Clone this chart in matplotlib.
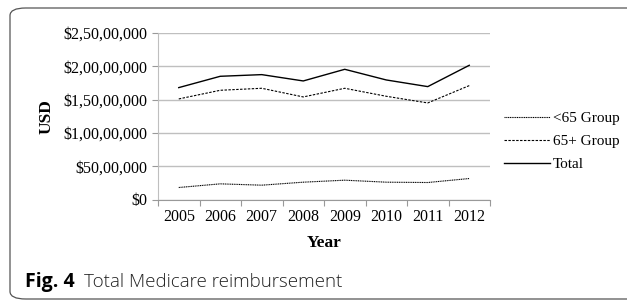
import numpy as np
import matplotlib.pyplot as plt
from matplotlib.patches import FancyBboxPatch
from matplotlib.ticker import FuncFormatter

years = ["2005", "2006", "2007", "2008", "2009", "2010", "2011", "2012"]
under65 = [1800000, 2350000, 2150000, 2600000, 2900000, 2600000, 2550000, 3150000]
over65 = [15100000, 16400000, 16700000, 15400000, 16700000, 15500000, 14500000, 17100000]
total = [16800000, 18500000, 18750000, 17800000, 19550000, 17950000, 16950000, 20150000]
series_names = ["<65 Group", "65+ Group", "Total"]

serif = "Liberation Serif"


def indian_dollar(v, pos):
    v = int(round(v))
    if v == 0:
        return "$0"
    s = str(v)
    last3 = s[-3:]
    rest = s[:-3]
    groups = []
    while len(rest) > 2:
        groups.insert(0, rest[-2:])
        rest = rest[:-2]
    if rest:
        groups.insert(0, rest)
    return "$" + ",".join(groups + [last3])


fig = plt.figure(figsize=(6.27, 3.04), dpi=100)

# rounded frame around the figure
frame = FancyBboxPatch((10 / 627, 5 / 304), 640 / 627, 291 / 304,
                       boxstyle="round,pad=0,rounding_size=0.025",
                       transform=fig.transFigure, fill=False,
                       edgecolor="#555555", linewidth=0.9)
fig.patches.append(frame)

ax = fig.add_axes([158 / 627, (304 - 199.5) / 304, 332 / 627, 166.5 / 304])
x = np.arange(len(years))
ax.plot(x, under65, color="black", linestyle=(0, (1, 0.6)), linewidth=0.8, label=series_names[0])
ax.plot(x, over65, color="black", linestyle=(0, (2.2, 1.3)), linewidth=0.8, label=series_names[1])
ax.plot(x, total, color="black", linestyle="-", linewidth=1.0, label=series_names[2])

ax.set_xlim(-0.5, len(years) - 0.5)
ax.set_ylim(0, 25000000)
ax.set_yticks(np.arange(0, 25000001, 5000000))
ax.yaxis.set_major_formatter(FuncFormatter(indian_dollar))
ax.grid(axis="y", color="#bfbfbf", linewidth=1.0)
ax.set_axisbelow(True)

ax.set_xticks(x)
ax.set_xticklabels(years, fontfamily=serif, fontsize=11.5)
ax.set_xticks(np.arange(-0.5, len(years), 1), minor=True)
ax.tick_params(axis="x", which="major", length=0, pad=7)
ax.tick_params(axis="x", which="minor", length=4, color="#999999", width=0.8)
ax.tick_params(axis="y", length=4, color="#999999", width=0.8, pad=4)
for lbl in ax.get_yticklabels():
    lbl.set_fontfamily(serif)
    lbl.set_fontsize(11.5)

for side in ["top", "right"]:
    ax.spines[side].set_visible(False)
ax.spines["left"].set_color("#bfbfbf")
ax.spines["bottom"].set_color("#999999")

ax.set_xlabel("Year", fontfamily=serif, fontsize=12.5, fontweight="bold", labelpad=7)
ax.set_ylabel("USD", fontfamily=serif, fontsize=12.5, fontweight="bold", labelpad=6)

ax.legend(loc="center left", bbox_to_anchor=(1.0, 0.35), frameon=False,
          prop={"family": serif, "size": 11}, handlelength=3.0, handletextpad=0.2,
          labelspacing=0.62)

fig.text(25 / 627, 1 - 282 / 304, "Fig. 4", fontfamily="Open Sans", fontweight="bold",
         fontsize=14, va="center", ha="left")
fig.text(84 / 627, 1 - 282 / 304, "Total Medicare reimbursement", fontfamily="Open Sans",
         fontweight="light", fontsize=13.5, va="center", ha="left", color="#222222")

fig.savefig("out.png", dpi=100)
